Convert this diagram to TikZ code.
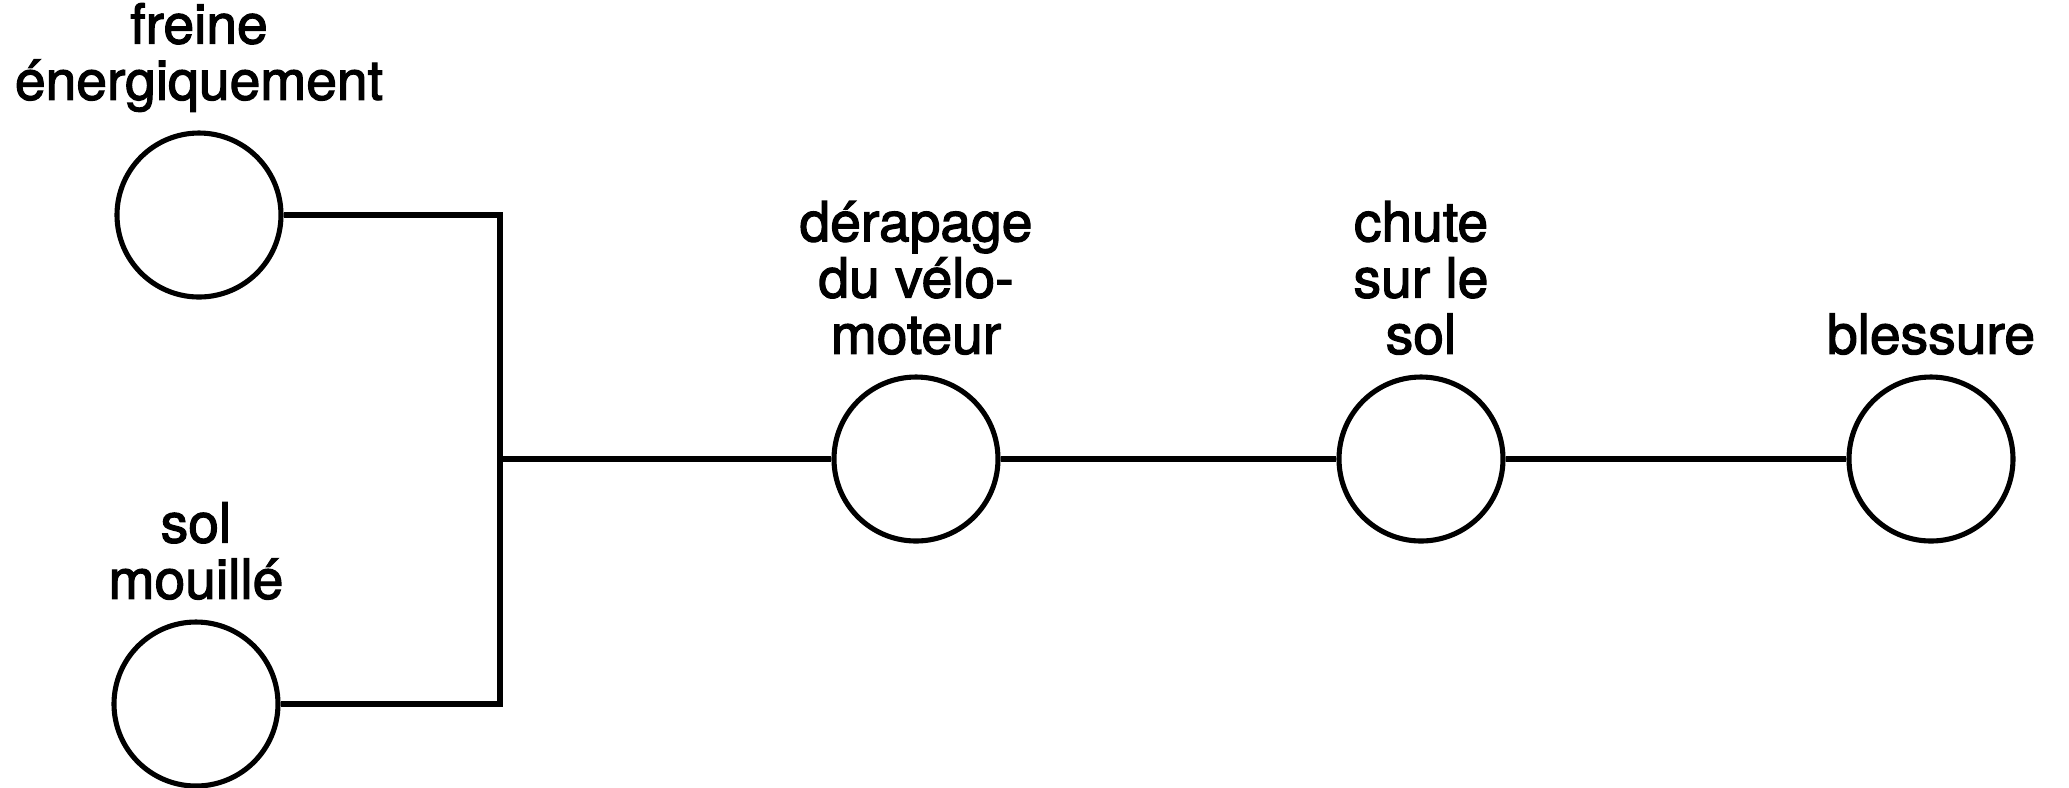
\documentclass[tikz,border=0pt]{standalone}
\usepackage{fontspec}
\newfontfamily\lblfont{TeX Gyre Heros}[FakeBold=2.2]
\usetikzlibrary{positioning}
\tikzset{
    event/.style = {circle, line width=1.45pt, draw=black, minimum size=16.4mm, inner sep=0pt, fill=white},
    lbl/.style = {align=center, inner sep=0pt, text depth=0pt, font=\lblfont\fontsize{15.7}{16}\selectfont},
    link/.style = {line width=1.45pt, draw=black},
    every label/.style = {lbl}
}
\begin{document}
\begin{tikzpicture}[label distance=2mm]
\useasboundingbox (0,0) rectangle (20.69,-7.87);
%
\node[event, label={[label distance=3mm]above:{freine\\énergiquement}}] at (1.99,-2.15) (frein) {};
\node[event, label={above:{sol\\mouillé}}] at (1.96,-7.04) (sol) {};
\node[event, label={above:{dérapage\\du vélo-\\moteur}}] at (9.16,-4.59) (derap) {};
\node[event, label={above:{chute\\sur le\\sol}}] at (14.21,-4.59) (chute) {};
\node[event, label={above:{blessure}}] at (19.31,-4.59) (bless) {};
\coordinate (jn) at (5.0,-4.59);
%
\draw[link] (frein) -| (jn);
\draw[link] (sol) -| (jn);
\draw[link] (jn) -- (derap);
\draw[link] (derap) -- (chute);
\draw[link] (chute) -- (bless);
\end{tikzpicture}
\end{document}
